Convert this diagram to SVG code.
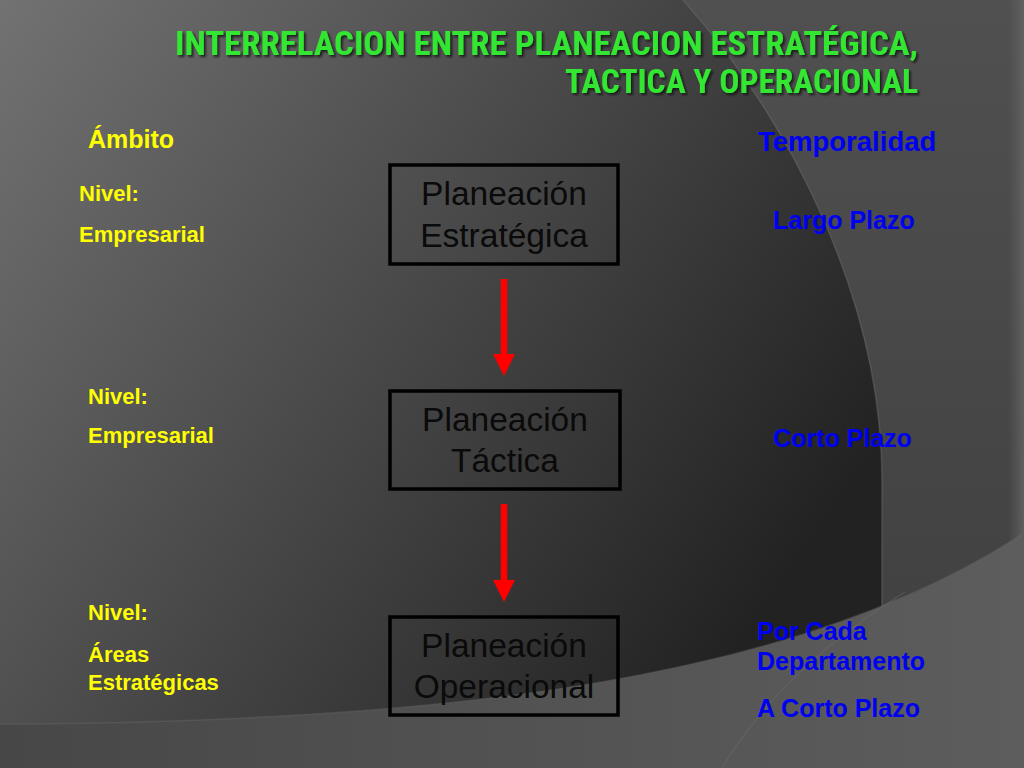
<svg xmlns="http://www.w3.org/2000/svg" width="1024" height="768" viewBox="0 0 1024 768">
  <defs>
    <linearGradient id="gRight" x1="0" y1="0" x2="0" y2="1">
      <stop offset="0" stop-color="#505050"/>
      <stop offset="1" stop-color="#3e3e3e"/>
    </linearGradient>
    <linearGradient id="gDark" gradientUnits="userSpaceOnUse" x1="0" y1="0" x2="800" y2="560">
      <stop offset="0" stop-color="#727272"/>
      <stop offset="1" stop-color="#222222"/>
    </linearGradient>
    <linearGradient id="gBottom" x1="0" y1="0" x2="1" y2="0">
      <stop offset="0" stop-color="#474747"/>
      <stop offset="1" stop-color="#5d5d5d"/>
    </linearGradient>
    <linearGradient id="gStrip" x1="0" y1="0" x2="1" y2="0">
      <stop offset="0" stop-color="#606060" stop-opacity="0"/>
      <stop offset="1" stop-color="#666666" stop-opacity="0.8"/>
    </linearGradient>
    <filter id="titleShadow" x="-5%" y="-20%" width="110%" height="150%">
      <feDropShadow dx="2" dy="2" stdDeviation="0.8" flood-color="#111111" flood-opacity="0.8"/>
    </filter>
    <marker id="arrowHead" viewBox="0 0 22 22" refX="0" refY="11" markerWidth="22" markerHeight="22" markerUnits="userSpaceOnUse" orient="auto">
      <path d="M0,0 L22,11 L0,22 Z" fill="#ff0000"/>
    </marker>
    <style>
      .title { font-family: "Liberation Sans Narrow", "Roboto Condensed", "DejaVu Sans Condensed", "Liberation Sans", sans-serif; font-weight: bold; font-size: 33px; fill: #33e633; filter: url(#titleShadow); }
      .yel { font-family: "Liberation Sans", Arial, sans-serif; font-weight: bold; fill: #ffff00; font-size: 22px; }
      .blu { font-family: "Liberation Sans", Arial, sans-serif; font-weight: bold; fill: #0000f0; font-size: 25px; }
      .box { fill: none; stroke: #000000; stroke-width: 3.5; }
      .boxText { font-family: "Liberation Sans", Arial, sans-serif; font-size: 33.5px; fill: #0a0a0a; text-anchor: middle; }
      .conn { stroke: #ff0000; stroke-width: 6.5; fill: none; }
    </style>
  </defs>

  <!-- background -->
  <rect x="0" y="0" width="1024" height="768" fill="url(#gRight)"/>
  <rect x="1008" y="0" width="16" height="768" fill="url(#gStrip)"/>
  <path d="M0,0 L683,0 C790,120 882,300 882,480 L882,768 L0,768 Z" fill="url(#gDark)"/>
  <path d="M683,0 C790,120 882,300 882,480 L882,620" fill="none" stroke="#6e6e6e" stroke-width="1.5" opacity="0.45"/>
  <path d="M0,724 C450,722 800,680 1024,533 L1024,768 L0,768 Z" fill="url(#gBottom)"/>
  <path d="M0,724 C450,722 800,680 1024,533" fill="none" stroke="#6a6a6a" stroke-width="1.5" opacity="0.4"/>
  <path d="M722,768 C760,705 820,645 905,592" fill="none" stroke="#6c6c6c" stroke-width="1.2" opacity="0.5"/>

  <!-- title -->
  <g id="title">
    <text class="title" x="175" y="55" textLength="743" lengthAdjust="spacingAndGlyphs">INTERRELACION ENTRE PLANEACION ESTRATÉGICA,</text>
    <text class="title" x="565" y="93" textLength="353" lengthAdjust="spacingAndGlyphs">TACTICA Y OPERACIONAL</text>
  </g>

  <!-- left column: Ámbito -->
  <g id="ambito">
    <text class="yel" x="88" y="148" style="font-size:25px">Ámbito</text>
  </g>
  <g id="nivel1">
    <text class="yel" x="79" y="201">Nivel:</text>
    <text class="yel" x="79" y="242">Empresarial</text>
  </g>
  <g id="nivel2">
    <text class="yel" x="88" y="404">Nivel:</text>
    <text class="yel" x="88" y="443">Empresarial</text>
  </g>
  <g id="nivel3">
    <text class="yel" x="88" y="620">Nivel:</text>
    <text class="yel" x="88" y="662">Áreas</text>
    <text class="yel" x="88" y="690">Estratégicas</text>
  </g>

  <!-- right column: Temporalidad -->
  <g id="temporalidad">
    <text class="blu" x="758" y="151" style="font-size:27.5px">Temporalidad</text>
  </g>
  <g id="largoPlazo">
    <text class="blu" x="773" y="229">Largo Plazo</text>
  </g>
  <g id="cortoPlazo">
    <text class="blu" x="773" y="447">Corto Plazo</text>
  </g>
  <g id="porDepartamento">
    <text class="blu" x="757" y="640">Por Cada</text>
    <text class="blu" x="757" y="670">Departamento</text>
    <text class="blu" x="757" y="717">A Corto Plazo</text>
  </g>

  <!-- nodes -->
  <g id="estrategica">
    <rect class="box" x="390" y="165" width="228" height="99"/>
    <text class="boxText" x="504" y="205">Planeación</text>
    <text class="boxText" x="504" y="247">Estratégica</text>
  </g>
  <g id="tactica">
    <rect class="box" x="390" y="391" width="230" height="98"/>
    <text class="boxText" x="505" y="431">Planeación</text>
    <text class="boxText" x="505" y="472">Táctica</text>
  </g>
  <g id="operacional">
    <rect class="box" x="390" y="617" width="228" height="98"/>
    <text class="boxText" x="504" y="657">Planeación</text>
    <text class="boxText" x="504" y="698">Operacional</text>
  </g>

  <!-- connectors -->
  <g id="connectors">
    <line class="conn" x1="504" y1="279" x2="504" y2="354" marker-end="url(#arrowHead)"/>
    <line class="conn" x1="504" y1="504" x2="504" y2="580" marker-end="url(#arrowHead)"/>
  </g>
</svg>
